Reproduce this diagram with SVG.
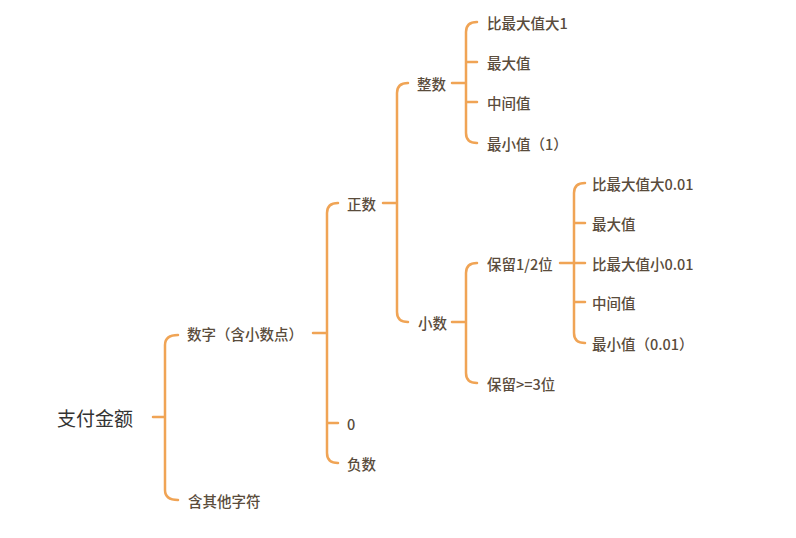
<svg xmlns="http://www.w3.org/2000/svg" width="796" height="538" viewBox="0 0 796 538">
<style>
.t{font-family:"Noto Sans CJK SC","Noto Sans",sans-serif;font-size:14.5px;font-weight:500;fill:#5a4c3c;dominant-baseline:central}
.r{font-size:19px;font-weight:400;fill:#333333}
.c{fill:none;stroke:#f0a455;stroke-width:2.5;stroke-linecap:round;stroke-linejoin:round}
</style>
<rect width="796" height="538" fill="#ffffff"/>
<g id="connectors">
<path class="c" d="M153,417 H165 M178,335 Q165,335 165,345 V490 Q165,500 178,500"/>
<path class="c" d="M313,333 H327 M338,203 Q327,203 327,213 V453 Q327,463 338,463 M327,423 H338"/>
<path class="c" d="M383,203 H397 M408,83 Q397,83 397,93 V312 Q397,322 408,322"/>
<path class="c" d="M452,83 H466 M477,22 Q466,22 466,32 V133 Q466,143 477,143 M466,62 H477 M466,102 H477"/>
<path class="c" d="M452,322 H466 M477,263 Q466,263 466,273 V373 Q466,383 477,383"/>
<path class="c" d="M560,263 H574 M585,183 Q574,183 574,193 V333 Q574,343 585,343 M574,223 H585 M574,263 H585 M574,302 H585"/>
</g>
<g id="n-root"><text class="t r" x="57" y="417">支付金额</text></g>
<g id="n-digits"><text class="t" x="187" y="333">数字（含小数点）</text></g>
<g id="n-other"><text class="t" x="188" y="500">含其他字符</text></g>
<g id="n-positive"><text class="t" x="347" y="203">正数</text></g>
<g id="n-zero"><text class="t" x="347" y="423">0</text></g>
<g id="n-negative"><text class="t" x="347" y="463">负数</text></g>
<g id="n-integer"><text class="t" x="417" y="83">整数</text></g>
<g id="n-decimal"><text class="t" x="418" y="322">小数</text></g>
<g id="n-i1"><text class="t" x="487" y="22">比最大值大1</text></g>
<g id="n-i2"><text class="t" x="487" y="62">最大值</text></g>
<g id="n-i3"><text class="t" x="487" y="102">中间值</text></g>
<g id="n-i4"><text class="t" x="487" y="143">最小值（1）</text></g>
<g id="n-keep12"><text class="t" x="487" y="263">保留1/2位</text></g>
<g id="n-keep3"><text class="t" x="487" y="383">保留&gt;=3位</text></g>
<g id="n-d1"><text class="t" x="592" y="183">比最大值大0.01</text></g>
<g id="n-d2"><text class="t" x="592" y="223">最大值</text></g>
<g id="n-d3"><text class="t" x="592" y="263">比最大值小0.01</text></g>
<g id="n-d4"><text class="t" x="592" y="302">中间值</text></g>
<g id="n-d5"><text class="t" x="592" y="343">最小值（0.01）</text></g>
</svg>
